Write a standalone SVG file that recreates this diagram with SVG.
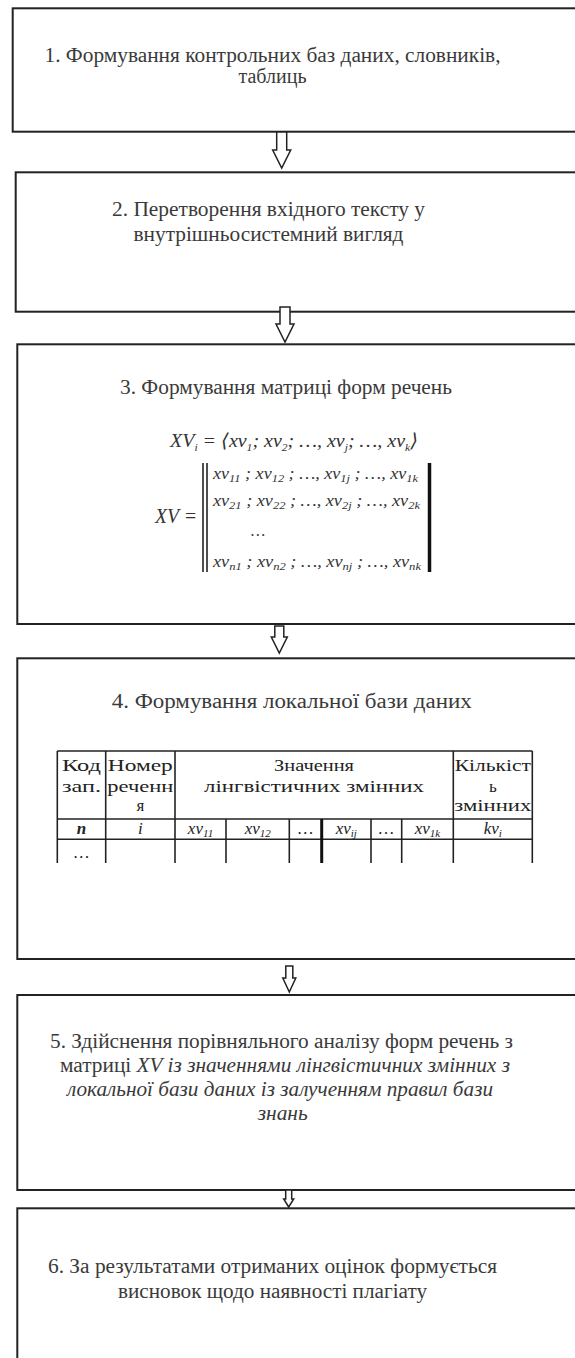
<svg xmlns="http://www.w3.org/2000/svg" width="575" height="1358" viewBox="0 0 575 1358" font-family="Liberation Serif, Times New Roman, serif">
<style>
.box{fill:#fff;stroke:#222;stroke-width:2}
.arr{fill:#fff;stroke:#222;stroke-width:1.5;stroke-linejoin:miter}
text{font-family:'Liberation Serif','Times New Roman','DejaVu Serif',serif}
.t{font-size:20px;fill:#3a3a3a;text-anchor:middle}
.ti{font-style:italic}
.m{font-style:italic;fill:#333}
.s{font-size:11px}
.tl{stroke:#222;stroke-width:1.6}
.th{font-size:17px;fill:#222;text-anchor:middle}
</style>
<rect width="575" height="1358" fill="#fff"/>
<g id="node1">
<rect class="box" x="12.7" y="8.3" width="600" height="123.4"/>
<text class="t" x="272.5" y="62" textLength="456" lengthAdjust="spacingAndGlyphs">1. Формування контрольних баз даних, словників,</text>
<text class="t" x="272.5" y="83" textLength="68" lengthAdjust="spacingAndGlyphs">таблиць</text>
</g>
<g id="node2">
<rect class="box" x="15.7" y="172.3" width="600" height="139.4"/>
<text class="t" x="268.5" y="216" textLength="313" lengthAdjust="spacingAndGlyphs">2. Перетворення вхідного тексту у</text>
<text class="t" x="268.5" y="241" textLength="270" lengthAdjust="spacingAndGlyphs">внутрішньосистемний вигляд</text>
</g>
<g id="node3">
<rect class="box" x="17.3" y="344.3" width="600" height="279.7"/>
<text class="t" x="286" y="394" textLength="332" lengthAdjust="spacingAndGlyphs">3. Формування матриці форм речень</text>
<text class="m" x="170" y="447" font-size="19" textLength="248" lengthAdjust="spacingAndGlyphs">XV<tspan class="s" dy="4">i</tspan><tspan dy="-4"> = ⟨xv</tspan><tspan class="s" dy="4">1</tspan><tspan dy="-4">; xv</tspan><tspan class="s" dy="4">2</tspan><tspan dy="-4">; …, xv</tspan><tspan class="s" dy="4">j</tspan><tspan dy="-4">; …, xv</tspan><tspan class="s" dy="4">k</tspan><tspan dy="-4">⟩</tspan></text>
<text class="m" x="155" y="523" font-size="20" textLength="42" lengthAdjust="spacingAndGlyphs">XV =</text>
<line class="tl" x1="203" y1="463" x2="203" y2="572"/>
<line class="tl" x1="207" y1="463" x2="207" y2="572"/>
<line x1="429.5" y1="463" x2="429.5" y2="572" stroke="#111" stroke-width="3.5"/>
<text class="m" x="213" y="479" font-size="16" textLength="205" lengthAdjust="spacingAndGlyphs">xv<tspan class="s" dy="3">11</tspan><tspan dy="-3"> ; xv</tspan><tspan class="s" dy="3">12</tspan><tspan dy="-3"> ; …, xv</tspan><tspan class="s" dy="3">1j</tspan><tspan dy="-3"> ; …, xv</tspan><tspan class="s" dy="3">1k</tspan></text>
<text class="m" x="213" y="506" font-size="16" textLength="207" lengthAdjust="spacingAndGlyphs">xv<tspan class="s" dy="3">21</tspan><tspan dy="-3"> ; xv</tspan><tspan class="s" dy="3">22</tspan><tspan dy="-3"> ; …, xv</tspan><tspan class="s" dy="3">2j</tspan><tspan dy="-3"> ; …, xv</tspan><tspan class="s" dy="3">2k</tspan></text>
<text class="m" x="258" y="536" font-size="16" text-anchor="middle">…</text>
<text class="m" x="213" y="567" font-size="16" textLength="208" lengthAdjust="spacingAndGlyphs">xv<tspan class="s" dy="3">n1</tspan><tspan dy="-3"> ; xv</tspan><tspan class="s" dy="3">n2</tspan><tspan dy="-3"> ; …, xv</tspan><tspan class="s" dy="3">nj</tspan><tspan dy="-3"> ; …, xv</tspan><tspan class="s" dy="3">nk</tspan></text>
</g>
<g id="node4">
<rect class="box" x="17.3" y="658.3" width="600" height="300.7"/>
<text class="t" x="291.7" y="708" textLength="360" lengthAdjust="spacingAndGlyphs">4. Формування локальної бази даних</text>
<g id="table">
<line class="tl" x1="57.3" y1="751" x2="532.3" y2="751"/>
<line class="tl" x1="57.3" y1="819" x2="532.3" y2="819"/>
<line class="tl" x1="57.3" y1="839.3" x2="532.3" y2="839.3"/>
<line class="tl" x1="57.3" y1="751" x2="57.3" y2="863"/>
<line class="tl" x1="105.7" y1="751" x2="105.7" y2="863"/>
<line class="tl" x1="175" y1="751" x2="175" y2="863"/>
<line class="tl" x1="453.3" y1="751" x2="453.3" y2="863"/>
<line class="tl" x1="532.3" y1="751" x2="532.3" y2="863"/>
<line class="tl" x1="226" y1="819" x2="226" y2="863"/>
<line class="tl" x1="289.3" y1="819" x2="289.3" y2="863"/>
<line x1="321.7" y1="819" x2="321.7" y2="863" stroke="#111" stroke-width="3"/>
<line class="tl" x1="371" y1="819" x2="371" y2="863"/>
<line class="tl" x1="401.7" y1="819" x2="401.7" y2="863"/>
<text class="th" x="81.5" y="771" textLength="39" lengthAdjust="spacingAndGlyphs">Код</text>
<text class="th" x="81.5" y="792" textLength="39" lengthAdjust="spacingAndGlyphs">зап.</text>
<text class="th" x="140.3" y="771" textLength="65" lengthAdjust="spacingAndGlyphs">Номер</text>
<text class="th" x="140.3" y="792" textLength="66" lengthAdjust="spacingAndGlyphs">реченн</text>
<text class="th" x="140.3" y="811">я</text>
<text class="th" x="314" y="771" textLength="80" lengthAdjust="spacingAndGlyphs">Значення</text>
<text class="th" x="314" y="792" textLength="220" lengthAdjust="spacingAndGlyphs">лінгвістичних змінних</text>
<text class="th" x="492.8" y="771" textLength="76" lengthAdjust="spacingAndGlyphs">Кількіст</text>
<text class="th" x="492.8" y="792">ь</text>
<text class="th" x="492.8" y="811" textLength="77" lengthAdjust="spacingAndGlyphs">змінних</text>
<text class="th m" x="81.5" y="834" font-weight="bold" font-size="16">n</text>
<text class="th m" x="140.3" y="834" font-size="16">i</text>
<text class="th m" x="200.5" y="834" font-size="16">xv<tspan class="s" dy="3">11</tspan></text>
<text class="th m" x="257.7" y="834" font-size="16">xv<tspan class="s" dy="3">12</tspan></text>
<text class="th m" x="305.5" y="834" font-size="13">…</text>
<text class="th m" x="346.3" y="834" font-size="16">xv<tspan class="s" dy="3">ij</tspan></text>
<text class="th m" x="386.3" y="834" font-size="13">…</text>
<text class="th m" x="427.5" y="834" font-size="16">xv<tspan class="s" dy="3">1k</tspan></text>
<text class="th m" x="492.8" y="834" font-size="16">kv<tspan class="s" dy="3">i</tspan></text>
<text class="th m" x="81.5" y="858" font-size="13">…</text>
</g>
</g>
<g id="node5">
<rect class="box" x="17.3" y="995" width="600" height="195"/>
<text class="t" x="281.5" y="1048" textLength="463" lengthAdjust="spacingAndGlyphs">5. Здійснення порівняльного аналізу форм речень з</text>
<text class="t" x="285" y="1072" textLength="450" lengthAdjust="spacingAndGlyphs">матриці <tspan class="ti">XV із значеннями лінгвістичних змінних з</tspan></text>
<text class="t ti" x="280" y="1096" textLength="426" lengthAdjust="spacingAndGlyphs">локальної бази даних із залученням правил бази</text>
<text class="t ti" x="282.7" y="1120" textLength="50" lengthAdjust="spacingAndGlyphs">знань</text>
</g>
<g id="node6">
<rect class="box" x="17.3" y="1208.3" width="600" height="200"/>
<text class="t" x="272.5" y="1273" textLength="449" lengthAdjust="spacingAndGlyphs">6. За результатами отриманих оцінок формується</text>
<text class="t" x="272.5" y="1298" textLength="309" lengthAdjust="spacingAndGlyphs">висновок щодо наявності плагіату</text>
</g>
<g id="connectors">
<path class="arr" d="M276.7,132 L286.7,132 L286.7,150 L290.7,150 L281.7,168 L272.7,150 L276.7,150 Z"/>
<path class="arr" d="M280,307 L290,307 L290,324 L294,324 L285,342 L276,324 L280,324 Z"/>
<path class="arr" d="M274.8,626 L283.8,626 L283.8,637 L287.3,637 L279.3,653 L271.3,637 L274.8,637 Z"/>
<path class="arr" d="M285.8,966 L292.8,966 L292.8,978 L295.8,978 L289.3,992 L282.8,978 L285.8,978 Z"/>
<path class="arr" d="M285.7,1190 L291.7,1190 L291.7,1199 L293.7,1199 L288.7,1207 L283.7,1199 L285.7,1199 Z"/>
</g>
</svg>
